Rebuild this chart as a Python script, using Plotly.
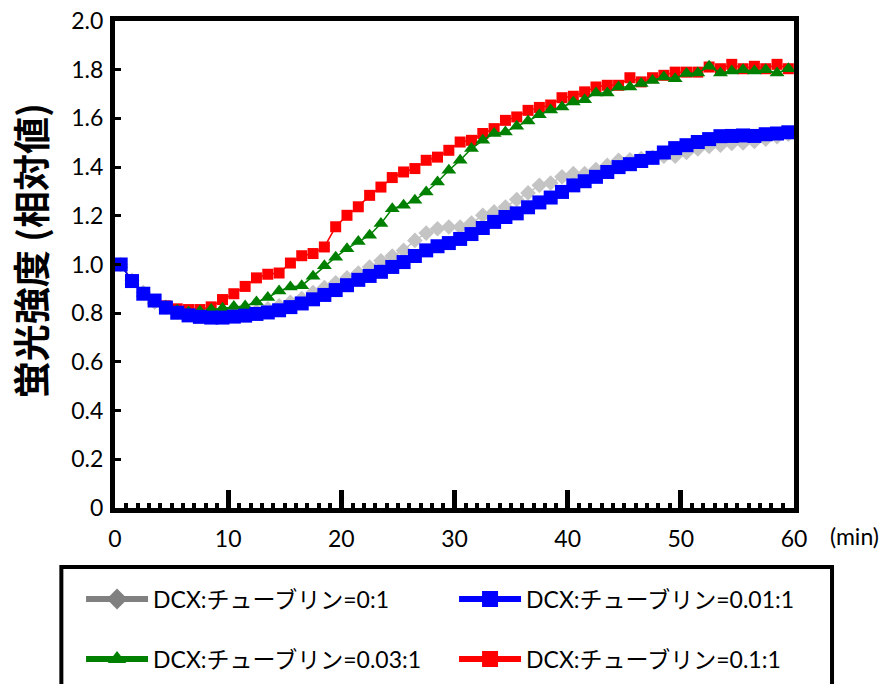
import plotly.graph_objects as go

# time (min) of each measurement
time_min = [0.5, 1.5, 2.5, 3.5, 4.5, 5.5, 6.5, 7.5, 8.5, 9.5,
            10.5, 11.5, 12.5, 13.5, 14.5, 15.5, 16.5, 17.5, 18.5, 19.5,
            20.5, 21.5, 22.5, 23.5, 24.5, 25.5, 26.5, 27.5, 28.5, 29.5,
            30.5, 31.5, 32.5, 33.5, 34.5, 35.5, 36.5, 37.5, 38.5, 39.5,
            40.5, 41.5, 42.5, 43.5, 44.5, 45.5, 46.5, 47.5, 48.5, 49.5,
            50.5, 51.5, 52.5, 53.5, 54.5, 55.5, 56.5, 57.5, 58.5, 59.5]

ratio_0 = [1.000, 0.935, 0.885, 0.845, 0.825, 0.805, 0.795, 0.790, 0.790, 0.790,
           0.795, 0.800, 0.808, 0.818, 0.830, 0.845, 0.860, 0.885, 0.905, 0.925,
           0.945, 0.965, 0.990, 1.015, 1.035, 1.058, 1.099, 1.129, 1.147, 1.154,
           1.154, 1.170, 1.202, 1.216, 1.236, 1.267, 1.294, 1.325, 1.335, 1.360,
           1.373, 1.373, 1.390, 1.407, 1.428, 1.430, 1.435, 1.440, 1.445, 1.445,
           1.460, 1.475, 1.485, 1.490, 1.497, 1.499, 1.505, 1.515, 1.525, 1.535]

ratio_001 = [1.000, 0.932, 0.880, 0.852, 0.823, 0.802, 0.791, 0.785, 0.782, 0.782,
             0.786, 0.790, 0.797, 0.803, 0.812, 0.825, 0.840, 0.857, 0.875, 0.895,
             0.915, 0.937, 0.953, 0.970, 0.990, 1.010, 1.035, 1.058, 1.075, 1.088,
             1.105, 1.125, 1.150, 1.175, 1.195, 1.210, 1.235, 1.255, 1.275, 1.298,
             1.325, 1.342, 1.360, 1.380, 1.400, 1.412, 1.425, 1.438, 1.460, 1.478,
             1.490, 1.503, 1.515, 1.527, 1.528, 1.530, 1.528, 1.535, 1.538, 1.543]

ratio_003 = [1.000, 0.932, 0.882, 0.850, 0.828, 0.812, 0.805, 0.808, 0.815, 0.820,
             0.828, 0.830, 0.846, 0.864, 0.891, 0.908, 0.913, 0.952, 0.995, 1.030,
             1.065, 1.094, 1.120, 1.168, 1.229, 1.243, 1.264, 1.298, 1.339, 1.387,
             1.428, 1.476, 1.510, 1.538, 1.544, 1.568, 1.589, 1.615, 1.635, 1.647,
             1.667, 1.677, 1.704, 1.704, 1.729, 1.729, 1.743, 1.756, 1.770, 1.763,
             1.784, 1.786, 1.814, 1.786, 1.795, 1.800, 1.795, 1.800, 1.786, 1.804]

ratio_01 = [1.000, 0.935, 0.885, 0.850, 0.830, 0.818, 0.815, 0.815, 0.826, 0.856,
            0.880, 0.910, 0.945, 0.960, 0.965, 1.006, 1.036, 1.045, 1.072, 1.155,
            1.202, 1.237, 1.284, 1.318, 1.357, 1.380, 1.394, 1.428, 1.441, 1.469,
            1.503, 1.510, 1.538, 1.558, 1.592, 1.606, 1.633, 1.645, 1.655, 1.685,
            1.691, 1.709, 1.729, 1.736, 1.736, 1.767, 1.750, 1.767, 1.777, 1.790,
            1.790, 1.790, 1.811, 1.804, 1.822, 1.804, 1.814, 1.804, 1.822, 1.804]

series_names = ["DCX:チューブリン=0:1", "DCX:チューブリン=0.01:1",
                "DCX:チューブリン=0.03:1", "DCX:チューブリン=0.1:1"]

y_tickvals = [0, 0.2, 0.4, 0.6, 0.8, 1.0, 1.2, 1.4, 1.6, 1.8, 2.0]
y_ticktext = ["0", "0.2", "0.4", "0.6", "0.8", "1.0", "1.2", "1.4", "1.6", "1.8", "2.0"]
x_tickvals = [0, 10, 20, 30, 40, 50, 60]

FONT = "Lato, 'Noto Sans CJK JP', sans-serif"

fig = go.Figure()

# plotted data (drawn order: gray, red, green, blue on top)
fig.add_trace(go.Scatter(x=time_min, y=ratio_0, mode="lines+markers", showlegend=False,
                         line=dict(color="#c4c4c4", width=1.5),
                         marker=dict(symbol="diamond", size=12, color="#c4c4c4")))
fig.add_trace(go.Scatter(x=time_min, y=ratio_01, mode="lines+markers", showlegend=False,
                         line=dict(color="#ff0000", width=1.5),
                         marker=dict(symbol="square", size=11, color="#ff0000")))
fig.add_trace(go.Scatter(x=time_min, y=ratio_003, mode="lines+markers", showlegend=False,
                         line=dict(color="#008000", width=1.5),
                         marker=dict(symbol="triangle-up", size=13, color="#008000")))
fig.add_trace(go.Scatter(x=time_min, y=ratio_001, mode="lines+markers", showlegend=False,
                         line=dict(color="#0000ff", width=1.5),
                         marker=dict(symbol="square", size=14, color="#0000ff")))

# legend entries
legend_style = [
    (series_names[0], "#808080", "diamond", "legend"),
    (series_names[1], "#0000ff", "square", "legend"),
    (series_names[2], "#008000", "triangle-up", "legend2"),
    (series_names[3], "#ff0000", "square", "legend2"),
]
for name, col, sym, lg in legend_style:
    fig.add_trace(go.Scatter(x=[None], y=[None], mode="lines+markers", name=name,
                             legend=lg,
                             line=dict(color=col, width=6),
                             marker=dict(symbol=sym, size=20, color=col)))

axis_common = dict(showline=True, linecolor="black", linewidth=5, mirror=True,
                   showgrid=False, zeroline=False, ticks="inside",
                   tickcolor="black",
                   tickfont=dict(family=FONT, size=23, color="black"))

fig.update_xaxes(range=[0, 60], tickvals=x_tickvals, ticklen=18, tickwidth=5,
                 ticklabelstandoff=6,
                 minor=dict(dtick=1, ticks="inside", ticklen=5, tickwidth=4,
                            tickcolor="black"),
                 **axis_common)
fig.update_yaxes(range=[0, 2.0], tickvals=y_tickvals, ticktext=y_ticktext,
                 ticklen=6, tickwidth=3, ticklabelstandoff=2,
                 **axis_common)

leg_common = dict(orientation="h", xanchor="left", yanchor="middle",
                  bgcolor="rgba(0,0,0,0)", borderwidth=0, itemwidth=62,
                  entrywidth=296, itemsizing="trace",
                  font=dict(family=FONT, size=23, color="black"))
fig.update_layout(
    width=896, height=684,
    margin=dict(l=115, r=102, t=21, b=176, autoexpand=False),
    plot_bgcolor="white", paper_bgcolor="white",
    legend=dict(x=-0.05, y=-0.187, **leg_common),
    legend2=dict(x=-0.05, y=-0.31, **leg_common),
    annotations=[
        dict(text="蛍光強度 (相対値)", xref="paper", yref="paper",
             x=-0.126, y=0.528, xanchor="center", yanchor="middle",
             textangle=-90, showarrow=False,
             font=dict(family="'Noto Sans CJK JP', sans-serif", size=37,
                       color="black", weight="bold")),
        dict(text="(min)", xref="paper", yref="paper",
             x=1.05, y=-0.058, xanchor="left", yanchor="middle",
             showarrow=False,
             font=dict(family=FONT, size=23, color="black")),
    ],
    shapes=[
        dict(type="rect", xref="paper", yref="paper",
             x0=-0.079, x1=1.056, y0=-0.121, y1=-0.42,
             line=dict(color="black", width=4), fillcolor="rgba(0,0,0,0)"),
    ],
)

fig.write_html("out.html")
